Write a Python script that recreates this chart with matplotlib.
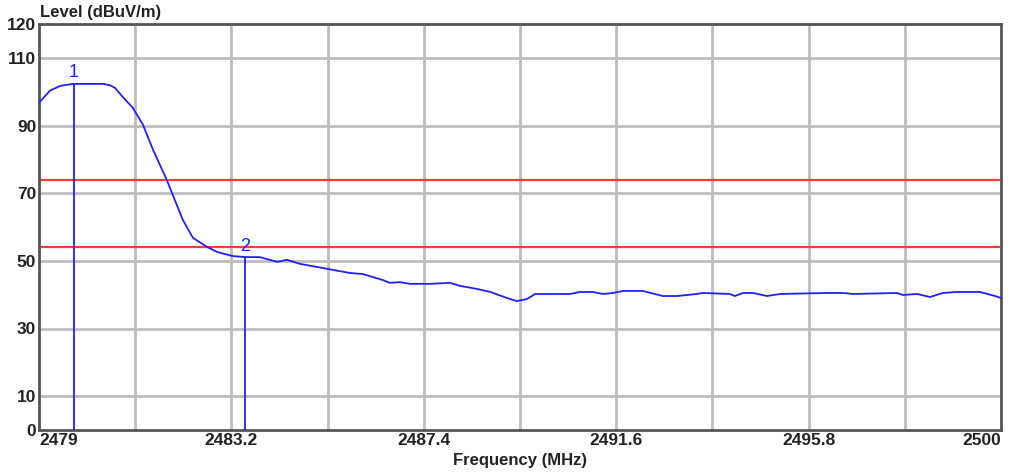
import numpy as np
import matplotlib
matplotlib.use("Agg")
import matplotlib.pyplot as plt

plt.rcParams['font.family'] = ['Liberation Sans', 'DejaVu Sans']

# trace (MHz, dBuV/m)
freq = [2479.00, 2479.24, 2479.46, 2479.74, 2480.07, 2480.40, 2480.55, 2480.66,
        2480.83, 2481.05, 2481.27,
        2481.49, 2481.79, 2482.14, 2482.36, 2482.67, 2482.89, 2483.23, 2483.54, 2483.82,
        2484.20, 2484.41, 2484.70, 2485.79, 2486.07, 2486.51, 2486.66, 2486.88,
        2487.10, 2487.54, 2487.97, 2488.19, 2488.56, 2488.85, 2489.22, 2489.43,
        2489.65, 2489.83, 2490.15, 2490.59, 2490.81, 2491.09, 2491.31, 2491.53,
        2491.75, 2492.18, 2492.62, 2492.93, 2493.36, 2493.49, 2494.08, 2494.19,
        2494.37, 2494.59, 2494.89, 2495.18, 2496.20, 2496.55, 2496.77, 2497.73,
        2497.86, 2498.17, 2498.45, 2498.73, 2499.04, 2499.54, 2499.87, 2500.00]
level = [96.7, 100.3, 101.7, 102.3, 102.3, 102.3, 101.9, 101.1,
         98.4, 95.2, 90.2,
         82.8, 73.9, 62.1, 56.8, 54.1, 52.6, 51.4, 51.1, 51.1,
         49.7, 50.3, 49.1, 46.4, 46.1, 44.3, 43.5, 43.7,
         43.2, 43.2, 43.5, 42.6, 41.7, 40.8, 39.0, 38.1,
         38.7, 40.2, 40.2, 40.2, 40.8, 40.8, 40.2, 40.5,
         41.1, 41.1, 39.6, 39.6, 40.2, 40.5, 40.2, 39.6,
         40.5, 40.5, 39.6, 40.2, 40.5, 40.5, 40.2, 40.5,
         39.9, 40.2, 39.3, 40.5, 40.8, 40.8, 39.6, 39.0]

limits = [74, 54]
marker_f = [2479.76, 2483.5]
marker_lvl = [102.3, 50.8]
marker_names = ['1', '2']

yticks = [0, 10, 30, 50, 70, 90, 110, 120]
xticks = [2479, 2483.2, 2487.4, 2491.6, 2495.8, 2500]
xgrid = [2479 + 2.1 * i for i in range(1, 10)]

fig = plt.figure(figsize=(10.12, 4.75), dpi=100)
ax = fig.add_axes([39 / 1012, 45 / 475, 962 / 1012, 406 / 475])

for g in xgrid:
    ax.axvline(g, color='#bdbdbd', lw=2, zorder=0)
for g in [10, 30, 50, 70, 90, 110]:
    ax.axhline(g, color='#bdbdbd', lw=2, zorder=0)

for lim in limits:
    ax.axhline(lim, color='#ff3b3b', lw=1.6, zorder=2)

ax.plot(freq, level, color='#2020ff', lw=1.3, zorder=3)

for f, l, n in zip(marker_f, marker_lvl, marker_names):
    ax.plot([f, f], [0, l], color='#2020ff', lw=1.3, zorder=3)
    ax.text(f, l + 1.0, n, color='#2020ff', fontsize=13, ha='center', va='bottom')

ax.set_xlim(2479, 2500)
ax.set_ylim(0, 120)
ax.set_xticks(xticks)
ax.set_xticklabels([f'{t:g}' for t in xticks], fontweight='bold', fontsize=12.5, color='#222222')
ax.set_yticks(yticks)
ax.set_yticklabels([str(t) for t in yticks], fontweight='bold', fontsize=12.5, color='#222222')
ax.tick_params(length=0, pad=2)
xl = ax.get_xticklabels()
xl[0].set_horizontalalignment('left')
xl[-1].set_horizontalalignment('right')

for s in ax.spines.values():
    s.set_color('#555555')
    s.set_linewidth(2)

ax.set_xlabel('Frequency (MHz)', fontweight='bold', fontsize=12, color='#222222', labelpad=4)
fig.text(40 / 1012, 1 - 12 / 475, 'Level (dBuV/m)', fontweight='bold', fontsize=12,
         color='#222222', va='center', ha='left')

fig.savefig('out.png', dpi=100)
